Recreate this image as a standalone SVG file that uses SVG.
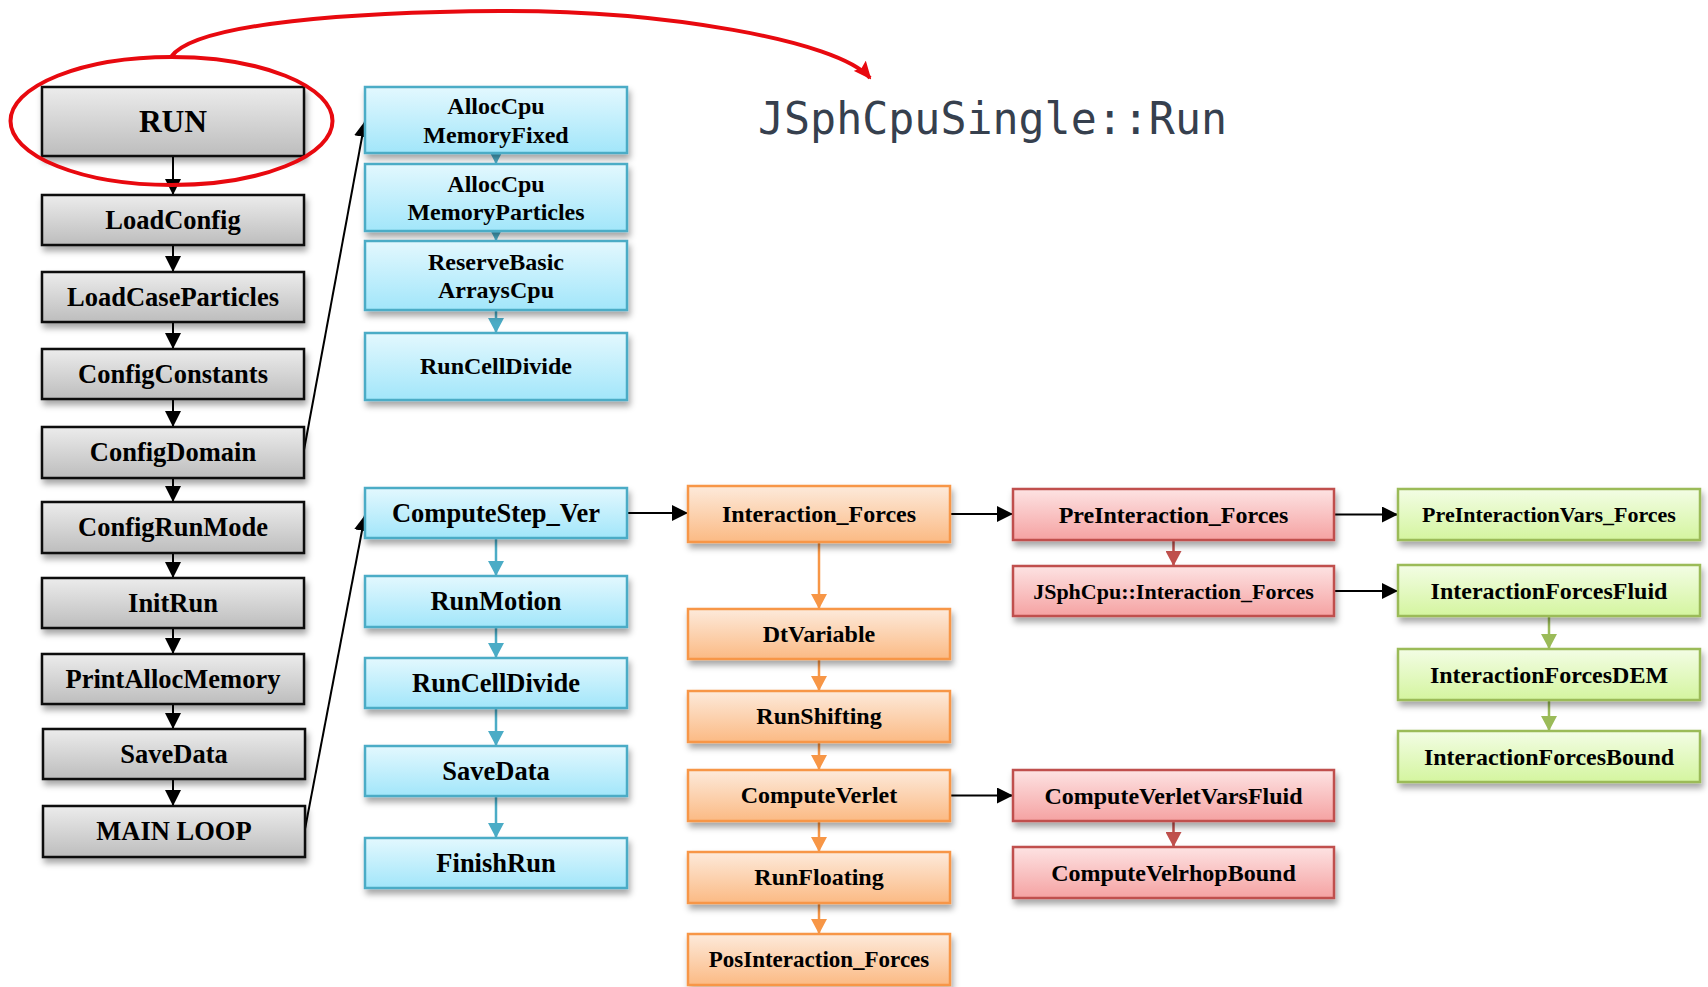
<svg xmlns="http://www.w3.org/2000/svg" width="1708" height="987" viewBox="0 0 1708 987">
<defs>
<style>
text{font-family:"Liberation Serif","Times New Roman",serif;font-weight:bold;fill:#000;text-anchor:middle}
.f26{font-size:26.5px}.f24{font-size:24px}.f22{font-size:22px}.f23{font-size:23px}
.gray{fill:url(#gGray);stroke:#111;stroke-width:2.5}
.blue{fill:url(#gBlue);stroke:#4bacc6;stroke-width:2.5}
.org{fill:url(#gOrg);stroke:#f79646;stroke-width:2.5}
.red{fill:url(#gRed);stroke:#c0504d;stroke-width:2.5}
.grn{fill:url(#gGrn);stroke:#9bbb59;stroke-width:2.5}
.box{filter:url(#sh)}
.cb{stroke:#000;stroke-width:2;fill:none;marker-end:url(#aBlack)}
.cbl{stroke:#4bacc6;stroke-width:2.5;fill:none;marker-end:url(#aBlue)}
.co{stroke:#f79646;stroke-width:2.5;fill:none;marker-end:url(#aOrg)}
.cr{stroke:#c0504d;stroke-width:2.5;fill:none;marker-end:url(#aRed)}
.cg{stroke:#9bbb59;stroke-width:2.5;fill:none;marker-end:url(#aGrn)}
</style>
<linearGradient id="gGray" x1="0" y1="0" x2="0" y2="1"><stop offset="0" stop-color="#ececec"/><stop offset="1" stop-color="#bdbdbd"/></linearGradient>
<linearGradient id="gBlue" x1="0" y1="0" x2="0" y2="1"><stop offset="0" stop-color="#e3f8fe"/><stop offset="1" stop-color="#a2e6fa"/></linearGradient>
<linearGradient id="gOrg" x1="0" y1="0" x2="0" y2="1"><stop offset="0" stop-color="#fdeadb"/><stop offset="1" stop-color="#fbba84"/></linearGradient>
<linearGradient id="gRed" x1="0" y1="0" x2="0" y2="1"><stop offset="0" stop-color="#fde3e3"/><stop offset="1" stop-color="#f5a2a2"/></linearGradient>
<linearGradient id="gGrn" x1="0" y1="0" x2="0" y2="1"><stop offset="0" stop-color="#f3fde5"/><stop offset="1" stop-color="#d4f59f"/></linearGradient>
<filter id="sh" x="-10%" y="-20%" width="125%" height="160%"><feDropShadow dx="2" dy="5" stdDeviation="3" flood-color="#000" flood-opacity="0.35"/></filter>
<marker id="aBlack" markerUnits="userSpaceOnUse" viewBox="0 0 16 16" refX="16" refY="8" markerWidth="16" markerHeight="16" orient="auto"><path d="M0,0 L16,8 L0,16 z" fill="#000"/></marker>
<marker id="aBlue" markerUnits="userSpaceOnUse" viewBox="0 0 15 16" refX="15" refY="8" markerWidth="15" markerHeight="16" orient="auto"><path d="M0,0 L15,8 L0,16 z" fill="#4bacc6"/></marker>
<marker id="aOrg" markerUnits="userSpaceOnUse" viewBox="0 0 15 16" refX="15" refY="8" markerWidth="15" markerHeight="16" orient="auto"><path d="M0,0 L15,8 L0,16 z" fill="#f79646"/></marker>
<marker id="aRed" markerUnits="userSpaceOnUse" viewBox="0 0 15 16" refX="15" refY="8" markerWidth="15" markerHeight="16" orient="auto"><path d="M0,0 L15,8 L0,16 z" fill="#c0504d"/></marker>
<marker id="aGrn" markerUnits="userSpaceOnUse" viewBox="0 0 15 16" refX="15" refY="8" markerWidth="15" markerHeight="16" orient="auto"><path d="M0,0 L15,8 L0,16 z" fill="#9bbb59"/></marker>
<marker id="aRedBig" markerUnits="userSpaceOnUse" viewBox="0 0 18 16" refX="16" refY="8" markerWidth="18" markerHeight="16" orient="auto"><path d="M0,0 L18,8 L0,16 L3,8 z" fill="#e8090f"/></marker>
</defs>
<rect width="1708" height="987" fill="#fff"/>

<g id="connectors">
<line class="cb" x1="173" y1="156" x2="173" y2="195"/>
<line class="cb" x1="173" y1="245" x2="173" y2="272"/>
<line class="cb" x1="173" y1="322" x2="173" y2="349"/>
<line class="cb" x1="173" y1="399" x2="173" y2="427"/>
<line class="cb" x1="173" y1="478" x2="173" y2="502"/>
<line class="cb" x1="173" y1="553" x2="173" y2="578"/>
<line class="cb" x1="173" y1="628" x2="173" y2="654"/>
<line class="cb" x1="173" y1="704" x2="173" y2="729"/>
<line class="cb" x1="173" y1="779" x2="173" y2="806"/>
<line class="cb" x1="304" y1="450" x2="365" y2="121"/>
<line class="cb" x1="305" y1="829" x2="365" y2="515"/>
<line class="cb" x1="627" y1="513" x2="688" y2="513"/>
<line class="cb" x1="950" y1="514" x2="1013" y2="514"/>
<line class="cb" x1="1334" y1="514.5" x2="1398" y2="514.5"/>
<line class="cb" x1="1334" y1="591" x2="1398" y2="591"/>
<line class="cb" x1="950" y1="795.5" x2="1013" y2="795.5"/>
<line class="cbl" x1="496" y1="153" x2="496" y2="164"/>
<line class="cbl" x1="496" y1="231" x2="496" y2="241"/>
<line class="cbl" x1="496" y1="310" x2="496" y2="333"/>
<line class="cbl" x1="496" y1="538" x2="496" y2="576"/>
<line class="cbl" x1="496" y1="627" x2="496" y2="658"/>
<line class="cbl" x1="496" y1="708" x2="496" y2="746"/>
<line class="cbl" x1="496" y1="796" x2="496" y2="838"/>
<line class="co" x1="819" y1="542" x2="819" y2="609"/>
<line class="co" x1="819" y1="659" x2="819" y2="691"/>
<line class="co" x1="819" y1="742" x2="819" y2="770"/>
<line class="co" x1="819" y1="821" x2="819" y2="852"/>
<line class="co" x1="819" y1="903" x2="819" y2="934"/>
<line class="cr" x1="1173.5" y1="540" x2="1173.5" y2="566"/>
<line class="cr" x1="1173.5" y1="821" x2="1173.5" y2="847"/>
<line class="cg" x1="1549" y1="616" x2="1549" y2="649"/>
<line class="cg" x1="1549" y1="700" x2="1549" y2="731"/>
</g>

<g id="n_run"><rect class="box gray" x="42" y="87" width="262" height="69"/><text x="173" y="132" style="font-size:31.5px">RUN</text></g>
<g id="n_loadconfig"><rect class="box gray" x="42" y="195" width="262" height="50"/><text class="f26" x="173" y="229">LoadConfig</text></g>
<g id="n_loadcase"><rect class="box gray" x="42" y="272" width="262" height="50"/><text class="f26" x="173" y="306">LoadCaseParticles</text></g>
<g id="n_configconst"><rect class="box gray" x="42" y="349" width="262" height="50"/><text class="f26" x="173" y="383">ConfigConstants</text></g>
<g id="n_configdomain"><rect class="box gray" x="42" y="427" width="262" height="51"/><text class="f26" x="173" y="461">ConfigDomain</text></g>
<g id="n_configrunmode"><rect class="box gray" x="42" y="502" width="262" height="51"/><text class="f26" x="173" y="536">ConfigRunMode</text></g>
<g id="n_initrun"><rect class="box gray" x="42" y="578" width="262" height="50"/><text class="f26" x="173" y="612">InitRun</text></g>
<g id="n_printalloc"><rect class="box gray" x="42" y="654" width="262" height="50"/><text class="f26" x="173" y="688">PrintAllocMemory</text></g>
<g id="n_savedata"><rect class="box gray" x="43" y="729" width="262" height="50"/><text class="f26" x="174" y="763">SaveData</text></g>
<g id="n_mainloop"><rect class="box gray" x="43" y="806" width="262" height="51"/><text class="f26" x="174" y="840">MAIN LOOP</text></g>

<g id="b_allocfixed"><rect class="box blue" x="365" y="87" width="262" height="66"/><text class="f24" x="496" y="114">AllocCpu</text><text class="f24" x="496" y="143">MemoryFixed</text></g>
<g id="b_allocpart"><rect class="box blue" x="365" y="164" width="262" height="67"/><text class="f24" x="496" y="192">AllocCpu</text><text class="f24" x="496" y="220">MemoryParticles</text></g>
<g id="b_reserve"><rect class="box blue" x="365" y="241" width="262" height="69"/><text class="f24" x="496" y="270">ReserveBasic</text><text class="f24" x="496" y="298">ArraysCpu</text></g>
<g id="b_runcell1"><rect class="box blue" x="365" y="333" width="262" height="67"/><text class="f24" x="496" y="374">RunCellDivide</text></g>
<g id="b_compstep"><rect class="box blue" x="365" y="488" width="262" height="50"/><text class="f26" x="496" y="522">ComputeStep_Ver</text></g>
<g id="b_runmotion"><rect class="box blue" x="365" y="576" width="262" height="51"/><text class="f26" x="496" y="610">RunMotion</text></g>
<g id="b_runcell2"><rect class="box blue" x="365" y="658" width="262" height="50"/><text class="f26" x="496" y="692">RunCellDivide</text></g>
<g id="b_savedata"><rect class="box blue" x="365" y="746" width="262" height="50"/><text class="f26" x="496" y="780">SaveData</text></g>
<g id="b_finish"><rect class="box blue" x="365" y="838" width="262" height="50"/><text class="f26" x="496" y="872">FinishRun</text></g>

<g id="o_interaction"><rect class="box org" x="688" y="486" width="262" height="56"/><text class="f24" x="819" y="522">Interaction_Forces</text></g>
<g id="o_dtvar"><rect class="box org" x="688" y="609" width="262" height="50"/><text class="f24" x="819" y="642">DtVariable</text></g>
<g id="o_runshift"><rect class="box org" x="688" y="691" width="262" height="51"/><text class="f24" x="819" y="724">RunShifting</text></g>
<g id="o_compverlet"><rect class="box org" x="688" y="770" width="262" height="51"/><text class="f24" x="819" y="803">ComputeVerlet</text></g>
<g id="o_runfloat"><rect class="box org" x="688" y="852" width="262" height="51"/><text class="f24" x="819" y="885">RunFloating</text></g>
<g id="o_posint"><rect class="box org" x="688" y="934" width="262" height="51"/><text class="f23" x="819" y="967">PosInteraction_Forces</text></g>

<g id="r_preint"><rect class="box red" x="1013" y="489" width="321" height="51"/><text class="f24" x="1173.5" y="522.5">PreInteraction_Forces</text></g>
<g id="r_jsph"><rect class="box red" x="1013" y="566" width="321" height="50"/><text class="f22" x="1173.5" y="598.5">JSphCpu::Interaction_Forces</text></g>
<g id="r_cvvf"><rect class="box red" x="1013" y="770" width="321" height="51"/><text class="f24" x="1173.5" y="803.5">ComputeVerletVarsFluid</text></g>
<g id="r_cvb"><rect class="box red" x="1013" y="847" width="321" height="51"/><text class="f24" x="1173.5" y="880.5">ComputeVelrhopBound</text></g>

<g id="g_prevars"><rect class="box grn" x="1398" y="489" width="302" height="51"/><text class="f22" x="1549" y="522">PreInteractionVars_Forces</text></g>
<g id="g_fluid"><rect class="box grn" x="1398" y="565" width="302" height="51"/><text class="f24" x="1549" y="598.5">InteractionForcesFluid</text></g>
<g id="g_dem"><rect class="box grn" x="1398" y="649" width="302" height="51"/><text class="f24" x="1549" y="682.5">InteractionForcesDEM</text></g>
<g id="g_bound"><rect class="box grn" x="1398" y="731" width="302" height="51"/><text class="f24" x="1549" y="764.5">InteractionForcesBound</text></g>

<g id="highlight">
<ellipse cx="171.5" cy="121" rx="161" ry="64" fill="none" stroke="#e8090f" stroke-width="4"/>
<path d="M171,57 C195,22 360,12 500,11 C660,10 838,40 870,78" fill="none" stroke="#e8090f" stroke-width="4" marker-end="url(#aRedBig)"/>
</g>

<g id="title"><text x="758" y="134" textLength="469" lengthAdjust="spacingAndGlyphs" style="font-family:'DejaVu Sans Mono','Liberation Mono',monospace;font-weight:normal;font-size:45px;fill:#36404e;text-anchor:start">JSphCpuSingle::Run</text></g>
</svg>
